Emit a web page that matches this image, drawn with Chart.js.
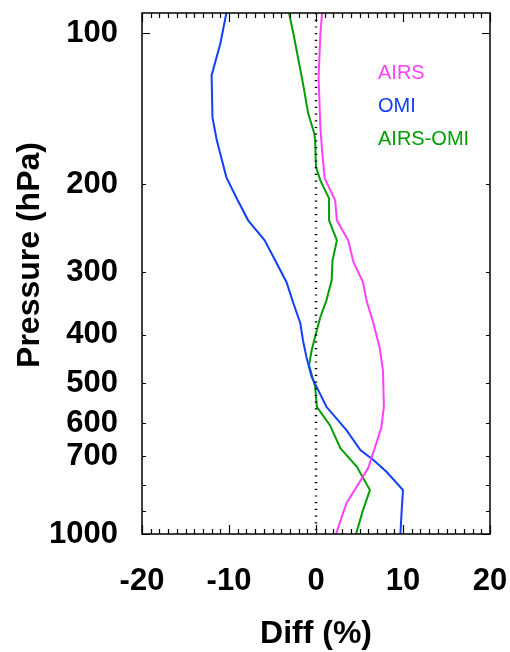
<!DOCTYPE html>
<html><head><meta charset="utf-8">
<script src="https://cdn.jsdelivr.net/npm/chart.js@4.4.1/dist/chart.umd.min.js"></script>
<style>html,body{margin:0;padding:0;background:#fff;} #wrap{width:510px;height:652px;}</style>
</head><body><div id="wrap"><canvas id="c" width="510" height="652"></canvas></div>
<script>
// ---- data ----
const xTickValues = [-20, -10, 0, 10, 20];
const yTickValues = [100, 200, 300, 400, 500, 600, 700, 800, 900, 1000];
const yTickLabels = ['100', '200', '300', '400', '500', '600', '700', '', '', '1000'];
const seriesNames = ['AIRS', 'OMI', 'AIRS-OMI'];

const airsPressure = [91, 100, 122.4, 154, 171.2, 194.7, 215.4, 236.2, 259, 286.1, 313.7, 341.3, 379.2, 422.9, 470.8, 557, 614.5, 669.5, 738.5, 773.1, 867.5, 1000];
const airsDiff     = [0.7, 0.5, 0.3, 0.5, 0.7, 1.0, 2.2, 2.4, 3.7, 4.3, 5.4, 5.8, 6.6, 7.3, 7.7, 7.8, 7.5, 6.8, 6.0, 5.3, 3.5, 2.3];

const omiPressure = [91, 104.8, 121.3, 147.1, 163.5, 193.8, 215.4, 236.2, 259, 283.9, 313.7, 346, 379.2, 410.1, 442.9, 485.5, 557, 620.1, 679.7, 711.7, 751.1, 817.2, 895.9, 1000];
const omiDiff     = [-10.3, -11.0, -12.0, -11.9, -11.4, -10.3, -9.0, -7.8, -5.9, -4.7, -3.4, -2.6, -1.8, -1.5, -1.1, -0.5, 1.2, 3.5, 5.1, 6.6, 8.1, 10.0, 9.85, 9.7];

const diffPressure = [91, 100, 125.8, 144.4, 158.3, 163.5, 185.1, 196.5, 213.5, 236.2, 259, 283.9, 311.2, 341.3, 368.4, 397.1, 429.4, 460.1, 508.1, 557, 606, 673.5, 734, 817.2, 895.9, 1000];
const diffDiff     = [-3.1, -2.6, -1.5, -0.9, -0.2, -0.1, 0.0, 0.5, 1.5, 1.5, 2.4, 1.9, 1.8, 1.2, 0.5, 0.0, -0.5, -0.8, -0.1, 0.1, 1.6, 2.8, 4.7, 6.2, 5.4, 4.6];

const zeroLinePressure = [91, 1000];
const zeroLineDiff = [0, 0];

const colors = { airs: '#ff40ff', omi: '#1040ff', diff: '#009f00' };

const toPts = (xs, ps) => ps.map((p, i) => ({ x: xs[i], y: p }));

const FONT = "'Liberation Sans', Arial, Helvetica, sans-serif";

const zeroPad = s => { s.paddingTop = 0; s.paddingBottom = 0; s.paddingLeft = 0; s.paddingRight = 0; };

const decorPlugin = {
  id: 'decor',
  afterDraw(chart) {
    const { ctx, chartArea: a, scales: { x, y } } = chart;
    ctx.save();
    ctx.strokeStyle = '#000';
    ctx.lineWidth = 1.2;
    // x ticks inward, top and bottom
    for (let v = -20; v <= 20; v++) {
      const px = Math.round(x.getPixelForValue(v)) + 0.5;
      const len = v % 10 === 0 ? 9 : 5;
      ctx.beginPath();
      ctx.moveTo(px, a.bottom); ctx.lineTo(px, a.bottom - len);
      ctx.moveTo(px, a.top); ctx.lineTo(px, a.top + len);
      ctx.stroke();
    }
    // y ticks inward, left and right
    yTickValues.forEach(v => {
      const py = Math.round(y.getPixelForValue(v)) + 0.5;
      const len = (v === 100 || v === 1000) ? 8 : 4;
      ctx.beginPath();
      ctx.moveTo(a.left, py); ctx.lineTo(a.left + len, py);
      ctx.moveTo(a.right, py); ctx.lineTo(a.right - len, py);
      ctx.stroke();
    });
    // frame
    ctx.lineWidth = 1.5;
    ctx.strokeRect(a.left, a.top, a.right - a.left, a.bottom - a.top);
    // legend labels
    ctx.font = '20px ' + FONT;
    ctx.textAlign = 'left';
    ctx.textBaseline = 'middle';
    const legendCols = [colors.airs, colors.omi, colors.diff];
    const legendY = [73, 106, 139];
    seriesNames.forEach((n, i) => {
      ctx.fillStyle = legendCols[i];
      ctx.fillText(n, 378, legendY[i]);
    });
    // y title
    ctx.fillStyle = '#000';
    ctx.font = 'bold 32px ' + FONT;
    ctx.textAlign = 'center';
    ctx.textBaseline = 'middle';
    ctx.translate(30, 255);
    ctx.rotate(-Math.PI / 2);
    ctx.fillText('Pressure (hPa)', 0, 0);
    ctx.restore();
  }
};

new Chart(document.getElementById('c'), {
  type: 'line',
  data: {
    datasets: [
      { label: 'zero', data: toPts(zeroLineDiff, zeroLinePressure), borderColor: '#000', borderWidth: 2.5, borderDash: [1.2, 5.5], pointRadius: 0, fill: false },
      { label: seriesNames[0], data: toPts(airsDiff, airsPressure), borderColor: colors.airs, borderWidth: 2, pointRadius: 0, fill: false, tension: 0 },
      { label: seriesNames[1], data: toPts(omiDiff, omiPressure), borderColor: colors.omi, borderWidth: 2, pointRadius: 0, fill: false, tension: 0 },
      { label: seriesNames[2], data: toPts(diffDiff, diffPressure), borderColor: colors.diff, borderWidth: 2, pointRadius: 0, fill: false, tension: 0 }
    ]
  },
  options: {
    responsive: false,
    animation: false,
    events: [],
    layout: { padding: { top: 13, right: 20, left: 0, bottom: 0 } },
    plugins: { legend: { display: false }, tooltip: { enabled: false } },
    scales: {
      x: {
        type: 'linear', position: 'bottom', min: -20, max: 20,
        afterBuildTicks: s => { s.ticks = xTickValues.map(v => ({ value: v })); },
        afterFit: s => { s.height = 118; zeroPad(s); },
        grid: { display: false, drawTicks: false },
        border: { display: false },
        ticks: { autoSkip: false, maxRotation: 0, padding: 29, color: '#000', font: { family: FONT, size: 31, weight: 'bold' } },
        title: { display: true, text: 'Diff (%)', color: '#000', font: { family: FONT, size: 32, weight: 'bold', lineHeight: 1 }, padding: { top: 0, bottom: 2 } }
      },
      y: {
        type: 'logarithmic', position: 'left', reverse: true, min: 91, max: 1000,
        afterBuildTicks: s => { s.ticks = yTickValues.map(v => ({ value: v })); },
        afterFit: s => { s.width = 142; zeroPad(s); },
        grid: { display: false, drawTicks: false },
        border: { display: false },
        ticks: {
          autoSkip: false, padding: 24, color: '#000',
          font: { family: FONT, size: 31, weight: 'bold' },
          callback: v => { const i = yTickValues.indexOf(v); return i >= 0 ? yTickLabels[i] : ''; }
        },
        title: { display: false }
      }
    }
  },
  plugins: [decorPlugin]
});
</script>
</body></html>
